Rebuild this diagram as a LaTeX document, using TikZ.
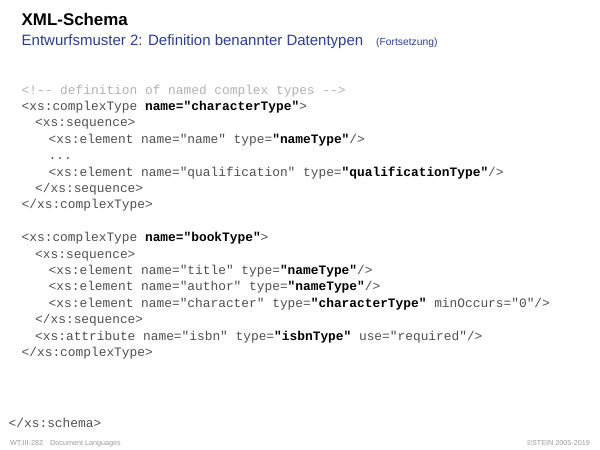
\documentclass[tikz,border=0pt]{standalone}
\usepackage{fontspec}
\setmainfont{Liberation Sans}
\setmonofont{Liberation Mono}
\definecolor{codegray}{HTML}{505050}
\definecolor{commentgray}{HTML}{B2B2B2}
\definecolor{subblue}{HTML}{2B3F8E}
\definecolor{footgray}{HTML}{9A9A9A}
\newcommand{\codefnt}{\fontsize{12.85}{16}\selectfont\ttfamily}
\tikzset{
  codeline/.style={anchor=base west, inner sep=0pt, font=\codefnt, text=codegray},
  commentline/.style={codeline, text=commentgray},
  titletext/.style={anchor=base west, inner sep=0pt, font=\fontsize{16.9}{20}\selectfont\bfseries, text=black},
  subtext/.style={anchor=base west, inner sep=0pt, font=\fontsize{15}{18}\selectfont, text=subblue},
  smallsub/.style={anchor=base west, inner sep=0pt, font=\fontsize{10.3}{12}\selectfont, text=subblue},
  foottext/.style={inner sep=0pt, font=\fontsize{7.2}{9}\selectfont, text=footgray},
}
\newcommand{\B}[1]{\textcolor{black}{\textbf{#1}}}
\begin{document}
\begin{tikzpicture}[x=1pt,y=-1pt]
\useasboundingbox (0,0) rectangle (600,450);
\fill[white] (0,0) rectangle (600,450);
\node[titletext] (title) at (21.5,25) {XML-Schema};
\node[subtext] (sub) at (21.5,45) {Entwurfsmuster 2: Definition benannter Datentypen};
\node[smallsub] (fort) at (376,45) {(Fortsetzung)};
% block 1
\node[commentline] (l0) at (21.5,94) {<!-- definition of named complex types -->};
\node[codeline] (l1) at (21.5,110.4) {<xs:complexType \B{name="characterType"}>};
\node[codeline] (l2) at (35,126.8) {<xs:sequence>};
\node[codeline] (l3) at (48.5,143.2) {<xs:element name="name" type=\B{"nameType"}/>};
\node[codeline] (l4) at (48.5,159.6) {...};
\node[codeline] (l5) at (48.5,176) {<xs:element name="qualification" type=\B{"qualificationType"}/>};
\node[codeline] (l6) at (35,192.4) {</xs:sequence>};
\node[codeline] (l7) at (21.5,208.8) {</xs:complexType>};
% block 2
\node[codeline] (m1) at (21.5,241.6) {<xs:complexType \B{name="bookType"}>};
\node[codeline] (m2) at (35,258) {<xs:sequence>};
\node[codeline] (m3) at (48.5,274.4) {<xs:element name="title" type=\B{"nameType"}/>};
\node[codeline] (m4) at (48.5,290.8) {<xs:element name="author" type=\B{"nameType"}/>};
\node[codeline] (m5) at (48.5,307.2) {<xs:element name="character" type=\B{"characterType"} minOccurs="0"/>};
\node[codeline] (m6) at (35,323.6) {</xs:sequence>};
\node[codeline] (m7) at (35,340) {<xs:attribute name="isbn" type=\B{"isbnType"} use="required"/>};
\node[codeline] (m8) at (21.5,356.4) {</xs:complexType>};
% end
\node[codeline] (end) at (8.5,427) {</xs:schema>};
% footer
\node[foottext, anchor=base west] (f1) at (10,445) {WT:III-282};
\node[foottext, anchor=base west] (f2) at (50,445) {Document Languages};
\node[foottext, anchor=base east] (f3) at (590,445) {©STEIN 2005-2019};
\end{tikzpicture}
\end{document}
